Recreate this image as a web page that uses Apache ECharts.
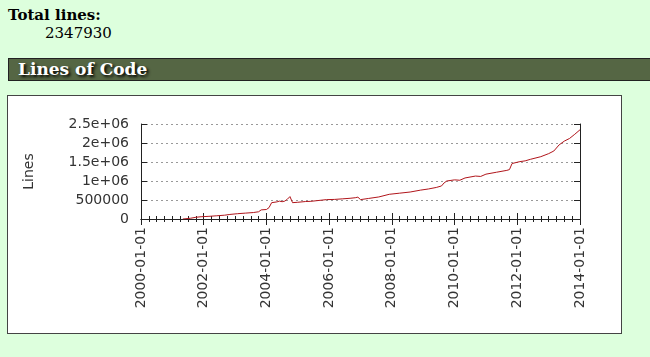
<!DOCTYPE html>
<html>
<head>
<meta charset="utf-8">
<script src="https://cdn.jsdelivr.net/npm/echarts@6/dist/echarts.min.js"></script>
<style>
  html, body { margin: 0; padding: 0; }
  body { width: 650px; height: 357px; background: #ddffdd; position: relative; overflow: hidden; font-family: "DejaVu Serif", serif; }
  #dt { position: absolute; left: 8px; top: 6px; font-weight: bold; font-size: 15px; color: #000; }
  #dd { position: absolute; left: 45px; top: 24px; font-size: 15px; color: #000; }
  #h2 { position: absolute; left: 8px; top: 58px; width: 700px; height: 21px; background: #556644; border: 1px solid #222; color: #fff; font-weight: bold; font-size: 17px; line-height: 21px; padding-left: 9px; text-shadow: #000 2px 2px 3px; }
  #chart { position: absolute; left: 7px; top: 95px; width: 613px; height: 237px; border: 1px solid #444; background: #fff; }
</style>
</head>
<body>
<div id="dt">Total lines:</div>
<div id="dd">2347930</div>
<div id="h2">Lines of Code</div>
<div id="chart"></div>
<script>
// ---- data ----
var dates = ['2001-05','2001-08','2001-10','2001-12','2002-03','2002-06','2002-09','2002-11','2003-02','2003-05','2003-08','2003-10','2003-11','2004-01','2004-02','2004-03','2004-05','2004-06','2004-07','2004-08','2004-09','2004-10','2004-11','2005-01','2005-04','2005-06','2005-08','2005-12','2006-03','2006-06','2006-09','2006-11','2006-12','2007-01','2007-04','2007-08','2007-12','2008-04','2008-08','2008-12','2009-03','2009-06','2009-08','2009-09','2009-10','2010-01','2010-03','2010-05','2010-09','2010-11','2011-01','2011-05','2011-09','2011-10','2011-11','2012-02','2012-04','2012-06','2012-10','2013-01','2013-03','2013-05','2013-07','2013-09','2013-11','2014-01'];
var lines = [0,20000,45000,60000,70000,85000,100000,120000,140000,155000,170000,190000,240000,250000,300000,430000,450000,470000,455000,470000,520000,590000,430000,440000,460000,465000,480000,510000,515000,530000,545000,560000,575000,510000,540000,580000,650000,680000,710000,760000,790000,830000,870000,950000,1000000,1030000,1020000,1080000,1130000,1120000,1180000,1230000,1280000,1300000,1460000,1510000,1530000,1570000,1640000,1720000,1790000,1950000,2050000,2120000,2230000,2347930];
var xTickYears = [2000, 2002, 2004, 2006, 2008, 2010, 2012, 2014];
var yTickValues = [0, 500000, 1000000, 1500000, 2000000, 2500000];
var yTickLabels = ['0', '500000', '1e+06', '1.5e+06', '2e+06', '2.5e+06'];

function toYear(s) { var p = s.split('-'); return +p[0] + (+p[1] - 1) / 12; }
var seriesData = dates.map(function (d, i) { return [toYear(d), lines[i]]; });

var chart = echarts.init(document.getElementById('chart'), null, { renderer: 'canvas' });
var labelFont = { fontFamily: 'DejaVu Sans', fontSize: 14, color: '#333' };
var common = {
  axisLine: { show: true, lineStyle: { color: '#222', width: 1 } },
  axisTick: { show: true, inside: true, length: 6, lineStyle: { color: '#222' } }
};
chart.setOption({
  animation: false,
  backgroundColor: '#fff',
  grid: { left: 133, right: 41, top: 28, bottom: 114 },
  xAxis: [{
    type: 'value', min: xTickYears[0], max: xTickYears[xTickYears.length - 1], interval: 2,
    position: 'bottom',
    axisLine: common.axisLine, axisTick: common.axisTick,
    minorTick: { show: true, splitNumber: 8, length: 3, lineStyle: { color: '#222' } },
    splitLine: { show: false },
    axisLabel: Object.assign({ rotate: 90, margin: 8, formatter: function (v) { return v + '-01-01'; } }, labelFont)
  }, {
    type: 'value', min: xTickYears[0], max: xTickYears[xTickYears.length - 1], interval: 2,
    position: 'top',
    axisLine: common.axisLine, axisTick: common.axisTick,
    minorTick: { show: true, splitNumber: 8, length: 3, lineStyle: { color: '#222' } },
    splitLine: { show: false }, axisLabel: { show: false }
  }],
  yAxis: [{
    type: 'value', min: 0, max: 2500000, interval: 500000, position: 'left',
    name: 'Lines', nameLocation: 'middle', nameGap: 105, nameRotate: 90,
    nameTextStyle: { fontFamily: 'DejaVu Sans', fontSize: 14, color: '#333' },
    axisLine: common.axisLine, axisTick: common.axisTick,
    splitLine: { show: true, lineStyle: { color: '#999', type: [2, 3], width: 1 } },
    axisLabel: Object.assign({ margin: 12, formatter: function (v) { return yTickLabels[yTickValues.indexOf(v)]; } }, labelFont)
  }, {
    type: 'value', min: 0, max: 2500000, interval: 500000, position: 'right',
    axisLine: common.axisLine, axisTick: common.axisTick,
    splitLine: { show: false }, axisLabel: { show: false }
  }],
  series: [{
    type: 'line', xAxisIndex: 0, yAxisIndex: 0, data: seriesData,
    symbol: 'none', lineStyle: { color: '#b0151b', width: 1 }, z: 5
  }]
});
</script>
</body>
</html>
